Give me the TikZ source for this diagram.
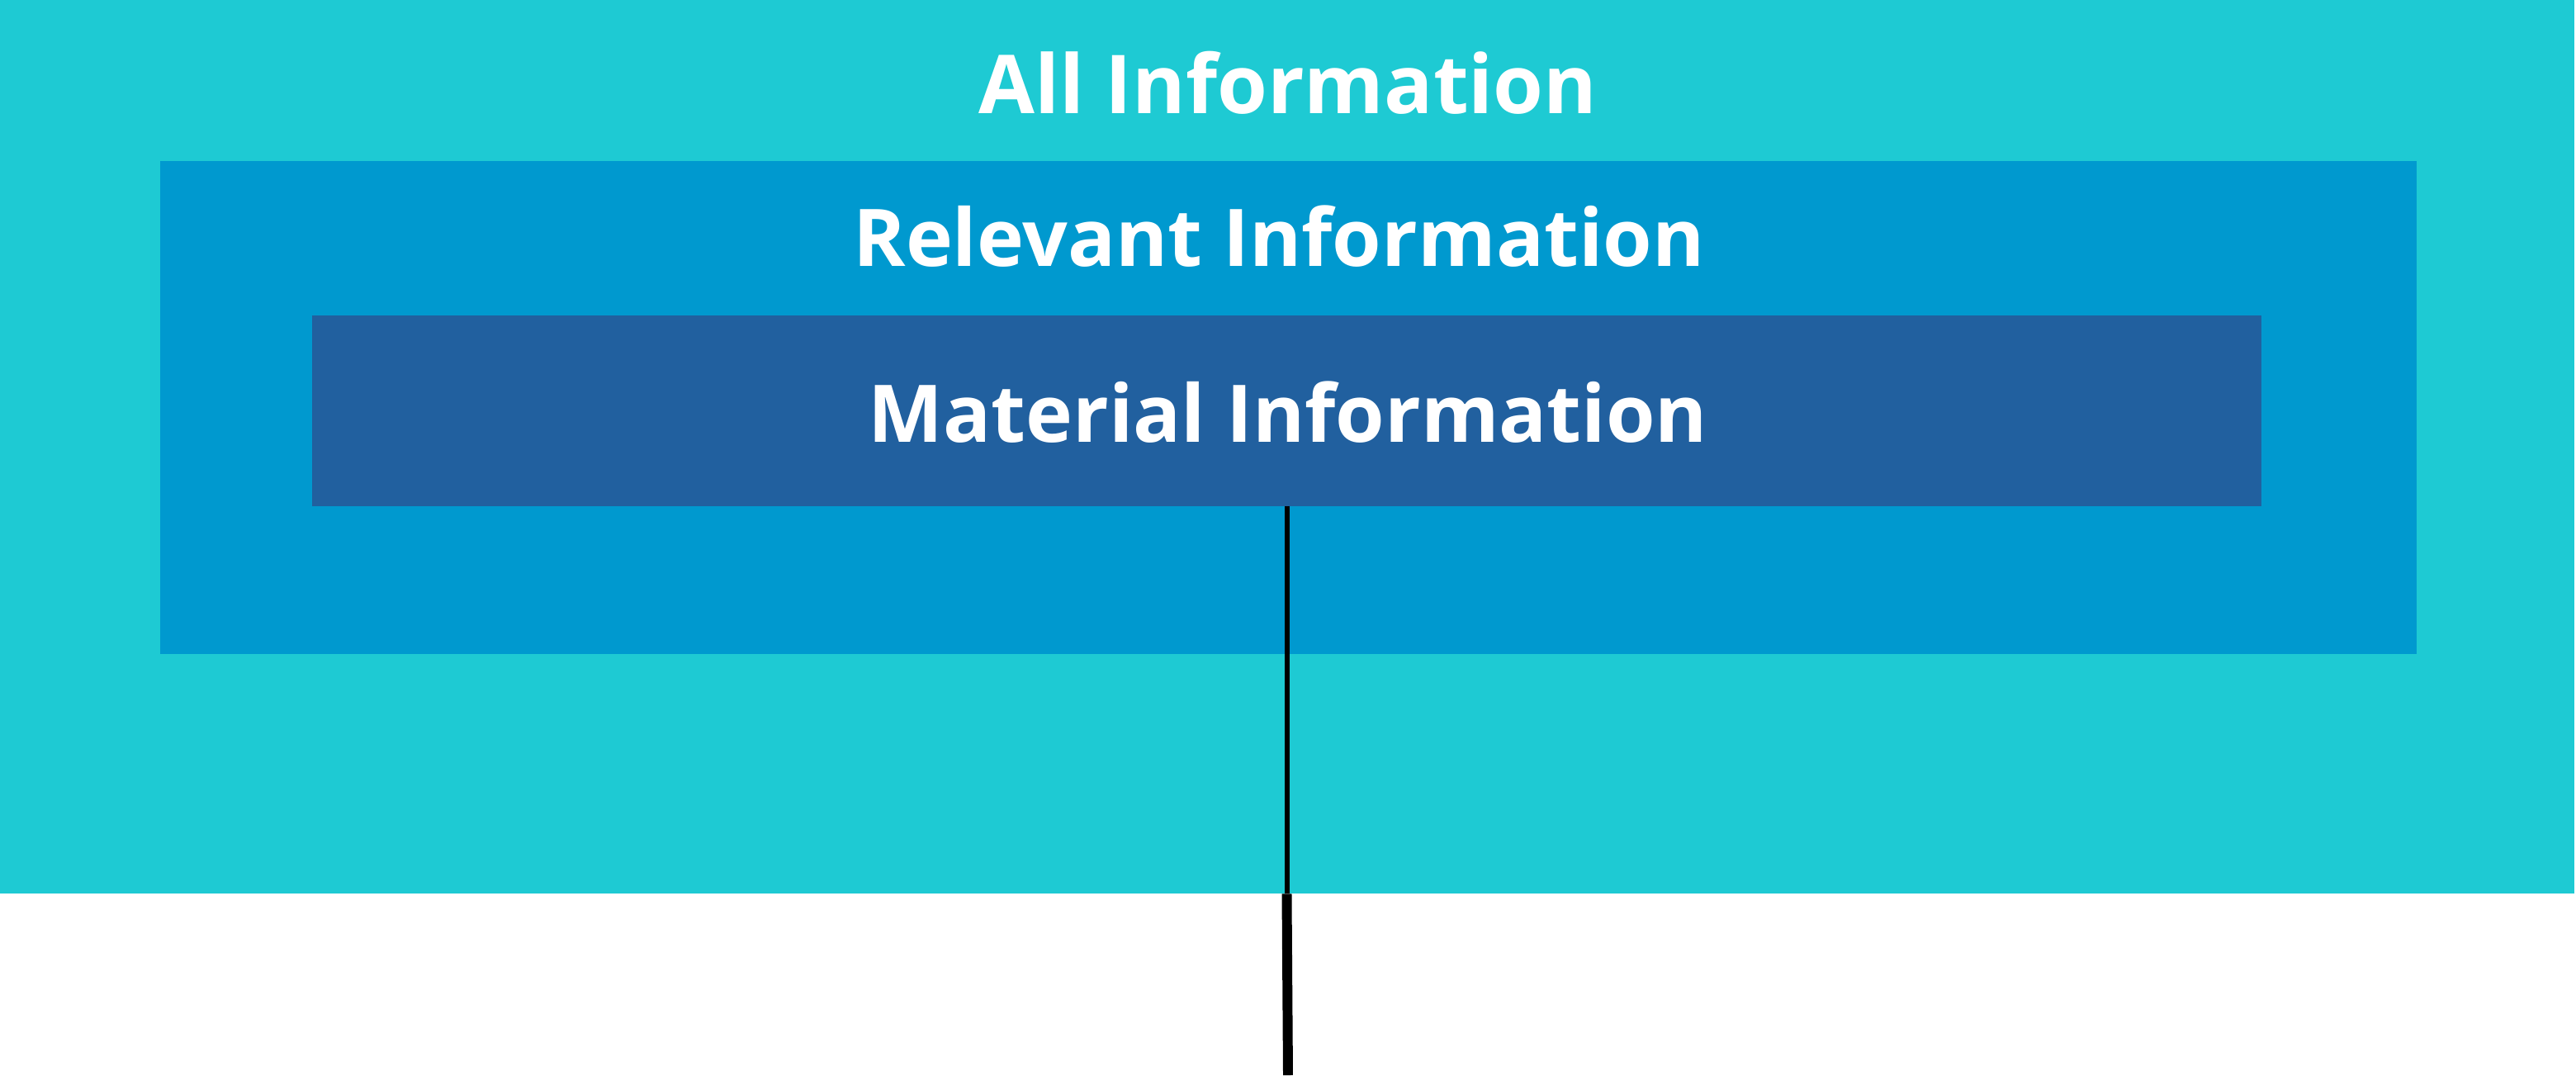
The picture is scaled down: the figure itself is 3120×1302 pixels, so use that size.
\documentclass[tikz,border=0pt]{standalone}
\usepackage{fontspec}
\setmainfont{Open Sans}
\definecolor{allcyan}{HTML}{1ECAD3}
\definecolor{relblue}{HTML}{0099CF}
\definecolor{matblue}{HTML}{21609F}
\tikzset{
  infobox/.style={inner sep=0pt, outer sep=0pt, draw=none, rectangle},
  infotext/.style={text=white, inner sep=0pt, font=\bfseries\fontsize{#1}{#1}\selectfont},
}
\begin{document}
\begin{tikzpicture}[x=0.01cm, y=-0.01cm]
        \useasboundingbox (0,0) rectangle (3120,1302);

        % nested boxes
        \node[infobox, fill=allcyan, minimum width=31.17cm, minimum height=10.82cm] (all) at (1558.5,541) {};
        \node[infobox, fill=relblue, minimum width=27.31cm, minimum height=5.97cm] (rel) at (1560.5,493.5) {};
        \node[infobox, fill=matblue, minimum width=23.59cm, minimum height=2.31cm] (mat) at (1558.5,497.5) {};

        \node[infotext=28pt] (allname) at (1560,100) {All Information};
        \node[infotext=27.4pt] (relname) at (1549,286) {Relevant Information};
        \node[infotext=27.4pt] (matname) at (1560,499) {Material Information};

        % line out of the bottom
        \coordinate (lineend) at (1560,1302);
        \draw[line width=1.7pt] (mat.south) -- (mat.south |- all.south);
        \draw[line width=3.4pt] (mat.south |- all.south) -- (lineend);

    \end{tikzpicture}
\end{document}
